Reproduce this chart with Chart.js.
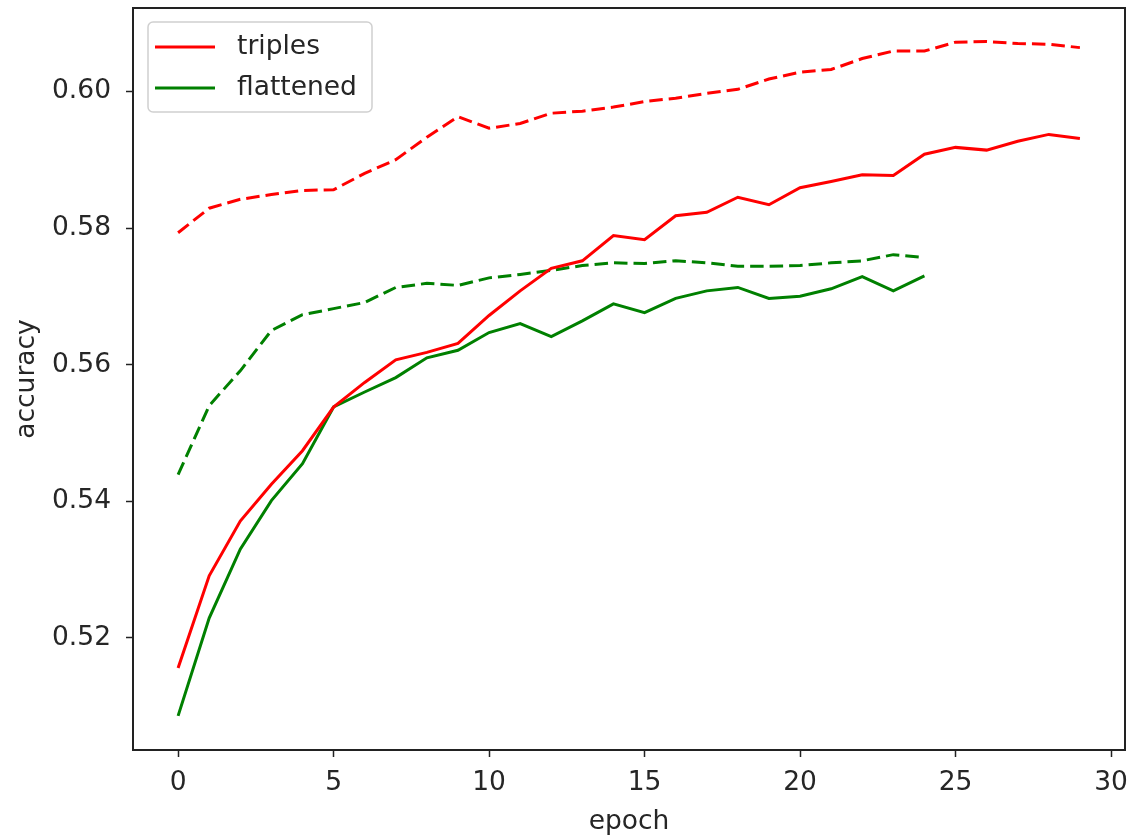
<!DOCTYPE html>
<html>
<head>
<meta charset="utf-8">
<script src="https://cdn.jsdelivr.net/npm/chart.js@4.4.1/dist/chart.umd.min.js"></script>
<style>
  html, body { margin: 0; padding: 0; background: #fff; }
  #wrap { width: 1132px; height: 839px; }
</style>
</head>
<body>
<div id="wrap"><canvas id="myChart" width="1132" height="839"></canvas></div>
<script>
// epochs
const epochsTriples = [0,1,2,3,4,5,6,7,8,9,10,11,12,13,14,15,16,17,18,19,20,21,22,23,24,25,26,27,28,29];
const epochsFlat = [0,1,2,3,4,5,6,7,8,9,10,11,12,13,14,15,16,17,18,19,20,21,22,23,24];

// triples: solid and dashed curves
const triplesSolid = [0.5156,0.5291,0.5371,0.5425,0.5474,0.5538,0.5574,0.5607,0.5618,0.5631,
                      0.5672,0.5708,0.5741,0.5752,0.5789,0.5783,0.5818,0.5823,0.5845,0.5834,
                      0.5859,0.5868,0.5878,0.5877,0.5908,0.5918,0.5914,0.5927,0.5937,0.5931];
const triplesDashed = [0.5793,0.5829,0.5842,0.5849,0.5855,0.5856,0.5880,0.5900,0.5933,0.5963,
                       0.5946,0.5953,0.5968,0.5971,0.5977,0.5985,0.5990,0.5997,0.6003,0.6018,
                       0.6028,0.6032,0.6048,0.6059,0.6059,0.6072,0.6073,0.6070,0.6069,0.6064];

// flattened: solid and dashed curves
const flatSolid = [0.5086,0.5229,0.5330,0.5401,0.5455,0.5538,0.5560,0.5581,0.5610,0.5621,
                   0.5647,0.5660,0.5641,0.5664,0.5689,0.5676,0.5697,0.5708,0.5713,0.5697,
                   0.5700,0.5711,0.5729,0.5708,0.5730];
const flatDashed = [0.5439,0.5540,0.5591,0.5650,0.5673,0.5682,0.5691,0.5713,0.5719,0.5716,
                    0.5727,0.5732,0.5738,0.5745,0.5749,0.5748,0.5752,0.5749,0.5744,0.5744,
                    0.5745,0.5749,0.5752,0.5761,0.5757];

const xTicks = [0, 5, 10, 15, 20, 25, 30];
const yTicks = [0.52, 0.54, 0.56, 0.58, 0.60];

const FONT = "'DejaVu Sans', sans-serif";
const FSIZE = 26.5;
const TEXT = "#262626";

function pts(xs, ys) {
    return ys.map((v, i) => ({ x: xs[i], y: v }));
}

// axes box drawn like matplotlib spines
const frame = {
    id: 'frame',
    afterDraw(chart) {
        const { ctx, chartArea: a } = chart;
        ctx.save();
        ctx.strokeStyle = '#222';
        ctx.lineWidth = 2;
        ctx.strokeRect(a.left, a.top, a.right - a.left, a.bottom - a.top);
        ctx.restore();
    }
};

// legend box in the upper left of the plot
const innerLegend = {
    id: 'innerLegend',
    afterDraw(chart) {
        const { ctx, chartArea: a } = chart;
        const items = chart.data.datasets.filter(d => d.inLegend);
        const x0 = a.left + 15, y0 = a.top + 14;
        const w = 224, h = 90;
        ctx.save();
        ctx.fillStyle = 'rgba(255,255,255,0.8)';
        ctx.strokeStyle = '#d0d0d0';
        ctx.lineWidth = 1.5;
        ctx.beginPath();
        ctx.roundRect(x0, y0, w, h, 5);
        ctx.fill();
        ctx.stroke();
        ctx.font = FSIZE + 'px ' + FONT;
        ctx.textBaseline = 'middle';
        items.forEach((d, i) => {
            const y = y0 + 25 + i * 41;
            ctx.strokeStyle = d.borderColor;
            ctx.lineWidth = 3;
            ctx.beginPath();
            ctx.moveTo(x0 + 7, y);
            ctx.lineTo(x0 + 67, y);
            ctx.stroke();
            ctx.fillStyle = TEXT;
            ctx.fillText(d.label, x0 + 89, y);
        });
        ctx.restore();
    }
};

new Chart("myChart", {
    type: "line",
    data: {
        datasets: [
            { label: "triples", inLegend: true, data: pts(epochsTriples, triplesSolid),
              borderColor: "#ff0000", borderWidth: 3 },
            { label: "flattened", inLegend: true, data: pts(epochsFlat, flatSolid),
              borderColor: "#008000", borderWidth: 3 },
            { label: "triples dashed", data: pts(epochsTriples, triplesDashed),
              borderColor: "#ff0000", borderWidth: 3, borderDash: [13.5, 6] },
            { label: "flattened dashed", data: pts(epochsFlat, flatDashed),
              borderColor: "#008000", borderWidth: 3, borderDash: [13.5, 6] }
        ]
    },
    options: {
        responsive: false,
        animation: false,
        elements: { point: { radius: 0 }, line: { tension: 0 } },
        layout: { padding: { top: 8, right: 7, left: 0, bottom: 0 } },
        plugins: { legend: { display: false }, tooltip: { enabled: false } },
        scales: {
            x: {
                type: 'linear',
                min: -1.45,
                max: 30.45,
                afterBuildTicks: s => { s.ticks = xTicks.map(v => ({ value: v })); },
                afterFit: s => { s.height = 89; s.paddingLeft = 0; s.paddingRight = 0; },
                grid: { drawOnChartArea: false, drawTicks: true, tickLength: 7, color: '#222', tickWidth: 1.5 },
                border: { display: false },
                ticks: { font: { family: FONT, size: FSIZE }, color: TEXT, padding: 10, maxRotation: 0 },
                title: { display: true, text: 'epoch', font: { family: FONT, size: FSIZE }, color: TEXT,
                         padding: { top: 0, bottom: 1 } }
            },
            y: {
                type: 'linear',
                min: 0.5036,
                max: 0.6122,
                afterBuildTicks: s => { s.ticks = yTicks.map(v => ({ value: v })); },
                afterFit: s => { s.width = 133; s.paddingTop = 0; s.paddingBottom = 0; },
                grid: { drawOnChartArea: false, drawTicks: true, tickLength: 7, color: '#222', tickWidth: 1.5 },
                border: { display: false },
                ticks: { font: { family: FONT, size: FSIZE }, color: TEXT, padding: 15,
                         callback: v => v.toFixed(2) },
                title: { display: true, text: 'accuracy', font: { family: FONT, size: FSIZE }, color: TEXT,
                         padding: { top: 11, bottom: 0 } }
            }
        }
    },
    plugins: [frame, innerLegend]
});
</script>
</body>
</html>
